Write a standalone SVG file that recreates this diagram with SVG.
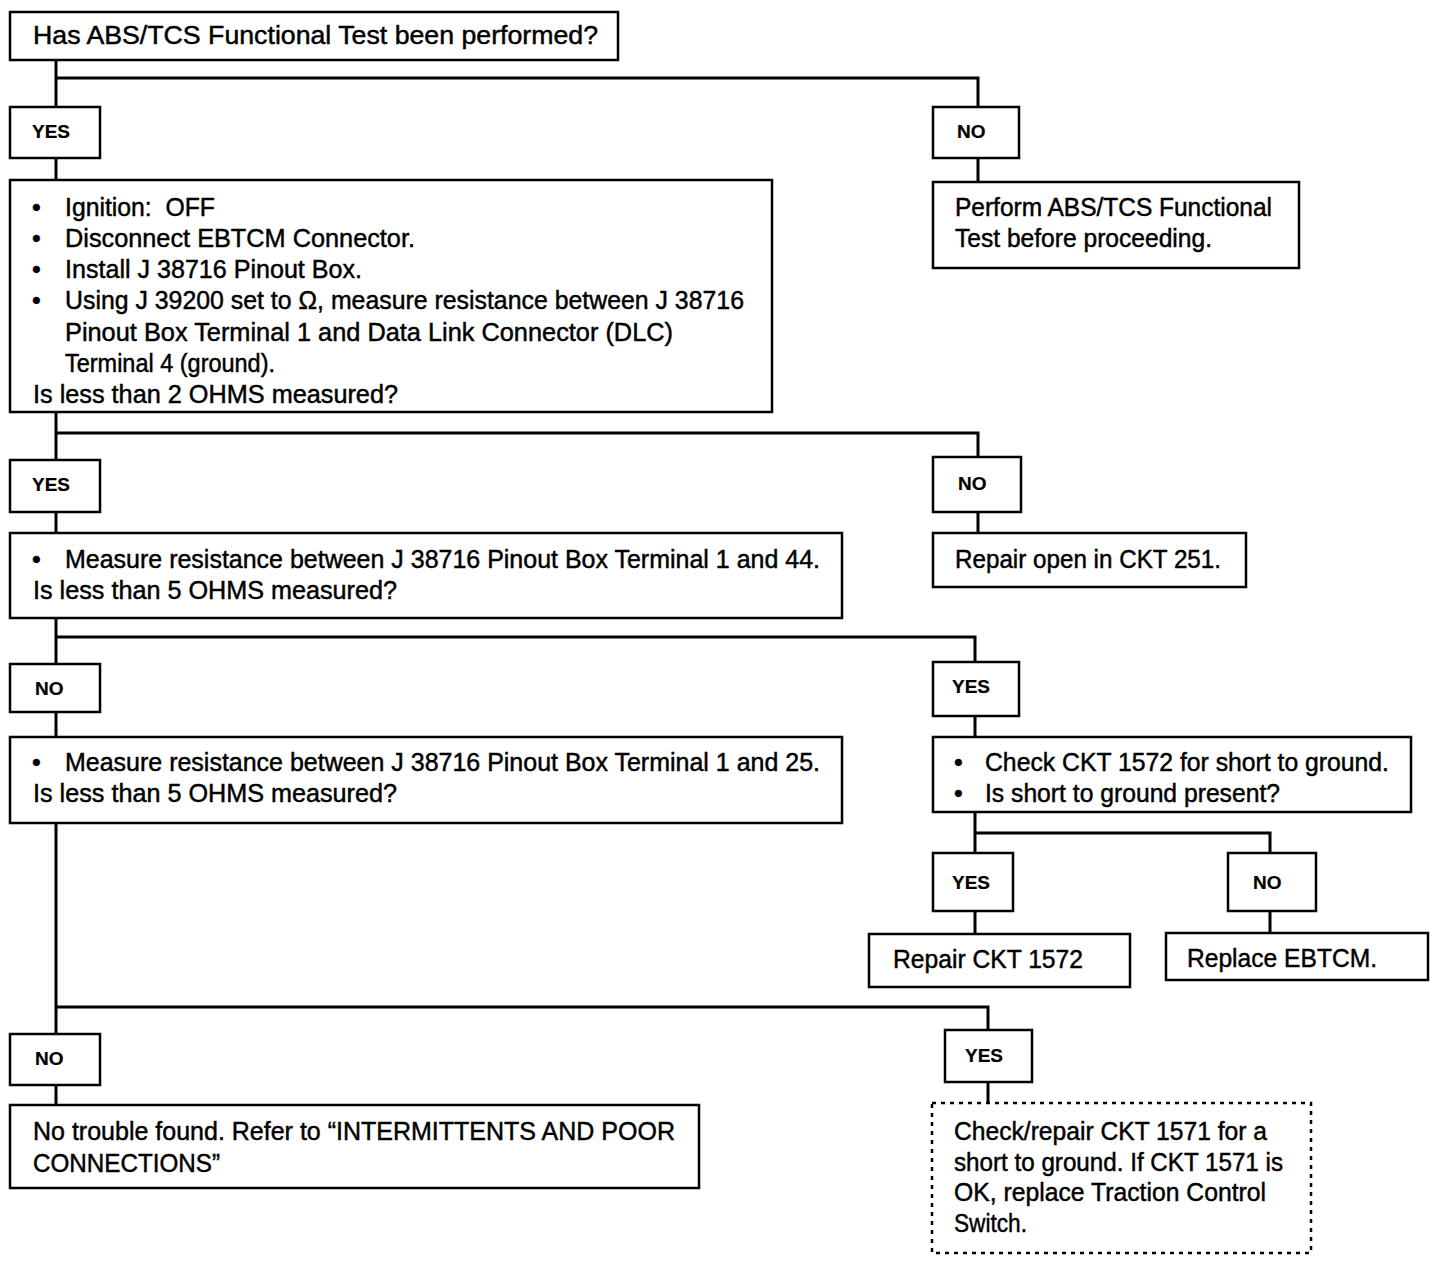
<svg xmlns="http://www.w3.org/2000/svg" width="1440" height="1262" viewBox="0 0 1440 1262">
<style>
.b{fill:#fff;stroke:#000;stroke-width:2.5}
.d{fill:#fff;stroke:#000;stroke-width:2.5;stroke-dasharray:4 5}
.c{fill:none;stroke:#000;stroke-width:3}
text{font-family:"Liberation Sans",Arial,sans-serif;font-size:25px;fill:#000;stroke:#000;stroke-width:0.45}
.l{font-size:19px;font-weight:bold;stroke-width:0.2}
</style>
<rect width="1440" height="1262" fill="#fff"/>
<g id="connectors">
<path class="c" d="M56 60V107M56 78H978V107"/>
<path class="c" d="M56 158V180M978 158V182"/>
<path class="c" d="M56 412V460M56 433H978V457"/>
<path class="c" d="M56 512V533M978 512V533"/>
<path class="c" d="M56 618V664M56 637H975V662"/>
<path class="c" d="M56 712V737M975 716V737"/>
<path class="c" d="M975 812V853M975 833H1270V853"/>
<path class="c" d="M975 911V934M1270 911V933"/>
<path class="c" d="M56 823V1034M56 1007H988V1030"/>
<path class="c" d="M56 1085V1105M988 1082V1103"/>
</g>
<g id="q1"><rect class="b" x="10" y="12" width="608" height="48"/><text x="33" y="44" textLength="565" lengthAdjust="spacingAndGlyphs">Has ABS/TCS Functional Test been performed?</text></g>
<g id="yes1"><rect class="b" x="10" y="107" width="90" height="51"/><text class="l" x="32" y="138">YES</text></g>
<g id="no1"><rect class="b" x="933" y="107" width="86" height="51"/><text class="l" x="957" y="138">NO</text></g>
<g id="q2"><rect class="b" x="10" y="180" width="762" height="232"/>
<text x="32" y="216">•</text><text x="65" y="216" textLength="150" lengthAdjust="spacingAndGlyphs">Ignition:&#160; OFF</text>
<text x="32" y="247">•</text><text x="65" y="247" textLength="350" lengthAdjust="spacingAndGlyphs">Disconnect EBTCM Connector.</text>
<text x="32" y="278">•</text><text x="65" y="278" textLength="297" lengthAdjust="spacingAndGlyphs">Install J 38716 Pinout Box.</text>
<text x="32" y="309">•</text><text x="65" y="309" textLength="679" lengthAdjust="spacingAndGlyphs">Using J 39200 set to Ω, measure resistance between J 38716</text>
<text x="65" y="341" textLength="608" lengthAdjust="spacingAndGlyphs">Pinout Box Terminal 1 and Data Link Connector (DLC)</text>
<text x="65" y="372" textLength="210" lengthAdjust="spacingAndGlyphs">Terminal 4 (ground).</text>
<text x="33" y="403" textLength="365" lengthAdjust="spacingAndGlyphs">Is less than 2 OHMS measured?</text></g>
<g id="perform"><rect class="b" x="933" y="182" width="366" height="86"/><text x="955" y="216" textLength="317" lengthAdjust="spacingAndGlyphs">Perform ABS/TCS Functional</text><text x="955" y="247" textLength="257" lengthAdjust="spacingAndGlyphs">Test before proceeding.</text></g>
<g id="yes2"><rect class="b" x="10" y="460" width="90" height="52"/><text class="l" x="32" y="491">YES</text></g>
<g id="no2"><rect class="b" x="933" y="457" width="88" height="55"/><text class="l" x="958" y="490">NO</text></g>
<g id="q3"><rect class="b" x="10" y="533" width="832" height="85"/>
<text x="32" y="568">•</text><text x="65" y="568" textLength="755" lengthAdjust="spacingAndGlyphs">Measure resistance between J 38716 Pinout Box Terminal 1 and 44.</text>
<text x="33" y="599" textLength="364" lengthAdjust="spacingAndGlyphs">Is less than 5 OHMS measured?</text></g>
<g id="repair251"><rect class="b" x="933" y="533" width="313" height="54"/><text x="955" y="568" textLength="266" lengthAdjust="spacingAndGlyphs">Repair open in CKT 251.</text></g>
<g id="no3"><rect class="b" x="10" y="664" width="90" height="48"/><text class="l" x="35" y="695">NO</text></g>
<g id="yes3"><rect class="b" x="933" y="662" width="86" height="54"/><text class="l" x="952" y="693">YES</text></g>
<g id="q4"><rect class="b" x="10" y="737" width="832" height="86"/>
<text x="32" y="771">•</text><text x="65" y="771" textLength="755" lengthAdjust="spacingAndGlyphs">Measure resistance between J 38716 Pinout Box Terminal 1 and 25.</text>
<text x="33" y="802" textLength="364" lengthAdjust="spacingAndGlyphs">Is less than 5 OHMS measured?</text></g>
<g id="q5"><rect class="b" x="933" y="737" width="478" height="75"/>
<text x="954" y="771">•</text><text x="985" y="771" textLength="404" lengthAdjust="spacingAndGlyphs">Check CKT 1572 for short to ground.</text>
<text x="954" y="802">•</text><text x="985" y="802" textLength="295" lengthAdjust="spacingAndGlyphs">Is short to ground present?</text></g>
<g id="yes4"><rect class="b" x="933" y="853" width="80" height="58"/><text class="l" x="952" y="889">YES</text></g>
<g id="no4"><rect class="b" x="1228" y="853" width="88" height="58"/><text class="l" x="1253" y="889">NO</text></g>
<g id="repair1572"><rect class="b" x="869" y="934" width="261" height="53"/><text x="893" y="968" textLength="190" lengthAdjust="spacingAndGlyphs">Repair CKT 1572</text></g>
<g id="replace"><rect class="b" x="1166" y="933" width="262" height="47"/><text x="1187" y="967" textLength="190" lengthAdjust="spacingAndGlyphs">Replace EBTCM.</text></g>
<g id="no5"><rect class="b" x="10" y="1034" width="90" height="51"/><text class="l" x="35" y="1065">NO</text></g>
<g id="yes5"><rect class="b" x="945" y="1030" width="87" height="52"/><text class="l" x="965" y="1062">YES</text></g>
<g id="notrouble"><rect class="b" x="10" y="1105" width="689" height="83"/>
<text x="33" y="1140" textLength="642" lengthAdjust="spacingAndGlyphs">No trouble found. Refer to “INTERMITTENTS AND POOR</text>
<text x="33" y="1172" textLength="187" lengthAdjust="spacingAndGlyphs">CONNECTIONS”</text></g>
<g id="check1571"><rect class="d" x="932" y="1103" width="379" height="150"/>
<text x="954" y="1140" textLength="313" lengthAdjust="spacingAndGlyphs">Check/repair CKT 1571 for a</text>
<text x="954" y="1171" textLength="329" lengthAdjust="spacingAndGlyphs">short to ground. If CKT 1571 is</text>
<text x="954" y="1201" textLength="312" lengthAdjust="spacingAndGlyphs">OK, replace Traction Control</text>
<text x="954" y="1232" textLength="73" lengthAdjust="spacingAndGlyphs">Switch.</text></g>
</svg>
